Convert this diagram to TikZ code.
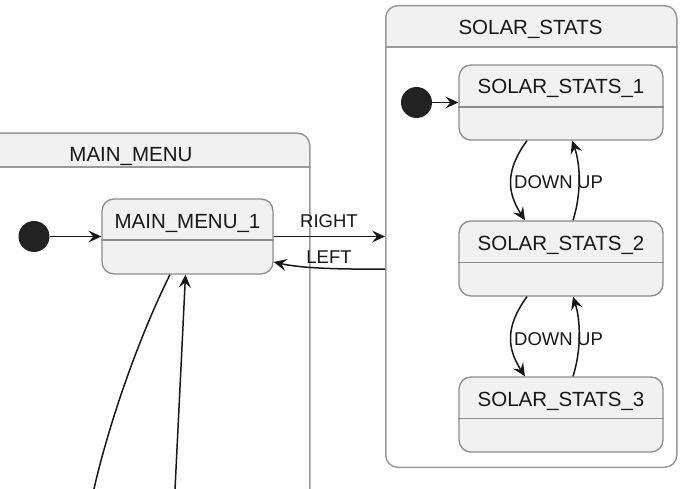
\documentclass[tikz,border=0pt]{standalone}
\usepackage{fontspec}
\setmainfont{Liberation Sans}
\usetikzlibrary{arrows.meta}
\definecolor{boxfill}{HTML}{F1F1F1}
\definecolor{contline}{HTML}{999999}
\definecolor{stateline}{HTML}{8C8C8C}
\definecolor{ink}{HTML}{181818}
\definecolor{dotcol}{HTML}{222222}
\tikzset{
  container/.style={draw=contline, line width=1.5pt, rounded corners=12pt, inner sep=0pt, anchor=north west},
  statebox/.style={draw=stateline, fill=boxfill, line width=1.3pt, rounded corners=12pt,
    minimum width=204pt, minimum height=75pt, inner sep=0pt},
  divider/.style={draw=stateline, line width=1.3pt},
  ctitle/.style={font=\fontsize{20.5}{24}\selectfont, anchor=base, inner sep=0pt, text=ink},
  stitle/.style={font=\fontsize{20.5}{24}\selectfont, anchor=base, inner sep=0pt, text=ink},
  elabel/.style={font=\fontsize{18.5}{22}\selectfont, inner sep=0pt, text=ink},
  edgeline/.style={draw=ink, line width=1.5pt},
  edge/.style={edgeline, -{Stealth[length=13pt,width=12pt,inset=5pt]}},
  initdot/.style={circle, fill=dotcol, minimum size=31pt, inner sep=0pt},
}
\begin{document}
\begin{tikzpicture}[x=1pt,y=-1pt]
\useasboundingbox (0,0) rectangle (698,489);
\clip (0,0) rectangle (698,489);

% ---------- containers ----------
\begin{scope}
  \clip (-40,132.5) rectangle (309,167);
  \fill[boxfill, rounded corners=12pt] (-40,132.5) rectangle (309,600);
\end{scope}
\node[container, minimum width=349pt, minimum height=460pt] (mainmenu) at (-40,132.5) {};
\draw[contline, line width=1.5pt] (mainmenu.west |- 0,167) -- (mainmenu.east |- 0,167);
\node[ctitle] (mmtitle) at (131,161) {MAIN\_MENU};

\begin{scope}
  \clip (385,5) rectangle (676,47);
  \fill[boxfill, rounded corners=12pt] (385,5) rectangle (676,466.5);
\end{scope}
\node[container, minimum width=291pt, minimum height=461.5pt] (solar) at (385,5) {};
\draw[contline, line width=1.5pt] (solar.west |- 0,47) -- (solar.east |- 0,47);
\node[ctitle] (sstitle) at (530.5,35) {SOLAR\_STATS};

% ---------- states ----------
\node[statebox, minimum width=171pt] (mm1) at (187.5,236.5) {};
\draw[divider] (mm1.west |- 0,240) -- (mm1.east |- 0,240);
\node[stitle] (mm1t) at (187.5,228.5) {MAIN\_MENU\_1};

\node[statebox] (ss1) at (561,102.5) {};
\draw[divider] (ss1.west |- 0,107) -- (ss1.east |- 0,107);
\node[stitle] (ss1t) at (561,93.5) {SOLAR\_STATS\_1};

\node[statebox] (ss2) at (561,258.5) {};
\draw[divider] (ss2.west |- 0,262.5) -- (ss2.east |- 0,262.5);
\node[stitle] (ss2t) at (561,250) {SOLAR\_STATS\_2};

\node[statebox] (ss3) at (561,414.5) {};
\draw[divider] (ss3.west |- 0,418.5) -- (ss3.east |- 0,418.5);
\node[stitle] (ss3t) at (561,406) {SOLAR\_STATS\_3};

% ---------- initial states ----------
\node[initdot] (mmdot) at (34,236.5) {};
\node[initdot] (ssdot) at (416.5,102.5) {};

% ---------- transitions ----------
\draw[edge] (mmdot) -- (mm1);
\draw[edge] (ssdot) -- (ss1);

\draw[edge] (mm1.east) -- (mm1.east -| solar.west);
\node[elabel, anchor=base] (lright) at (329,227.3) {RIGHT};
\draw[edge] (solar.west |- 0,269) .. controls (335,269.5) and (300,268) .. (mm1.east |- 0,262);
\node[elabel, anchor=base] (lleft) at (329,263.3) {LEFT};

\draw[edge] ([xshift=-34pt]ss1.south) .. controls +(-22,30) and +(-18,-28) .. ([xshift=-36pt]ss2.north);
\draw[edge] ([xshift=12pt]ss2.north) .. controls +(8,-25) and +(9,25) .. ([xshift=11pt]ss1.south);
\node[elabel, anchor=base east] (ldown1) at (573,189) {DOWN};
\node[elabel, anchor=base west] (lup1) at (577,189) {UP};

\draw[edge] ([xshift=-34pt]ss2.south) .. controls +(-22,30) and +(-18,-28) .. ([xshift=-36pt]ss3.north);
\draw[edge] ([xshift=12pt]ss3.north) .. controls +(8,-25) and +(8,25) .. ([xshift=12pt]ss2.south);
\node[elabel, anchor=base east] (ldown2) at (573,345.7) {DOWN};
\node[elabel, anchor=base west] (lup2) at (577,345.7) {UP};

% ---------- edges leaving the picture ----------
\coordinate (offa) at (91.5,500);
\coordinate (offb) at (174.5,500);
\draw[edgeline] ([xshift=-17.5pt]mm1.south) .. controls +(-30,60) and +(16,-75) .. (offa);
\draw[edge] (offb) -- ([xshift=-2pt]mm1.south);
\end{tikzpicture}
\end{document}
